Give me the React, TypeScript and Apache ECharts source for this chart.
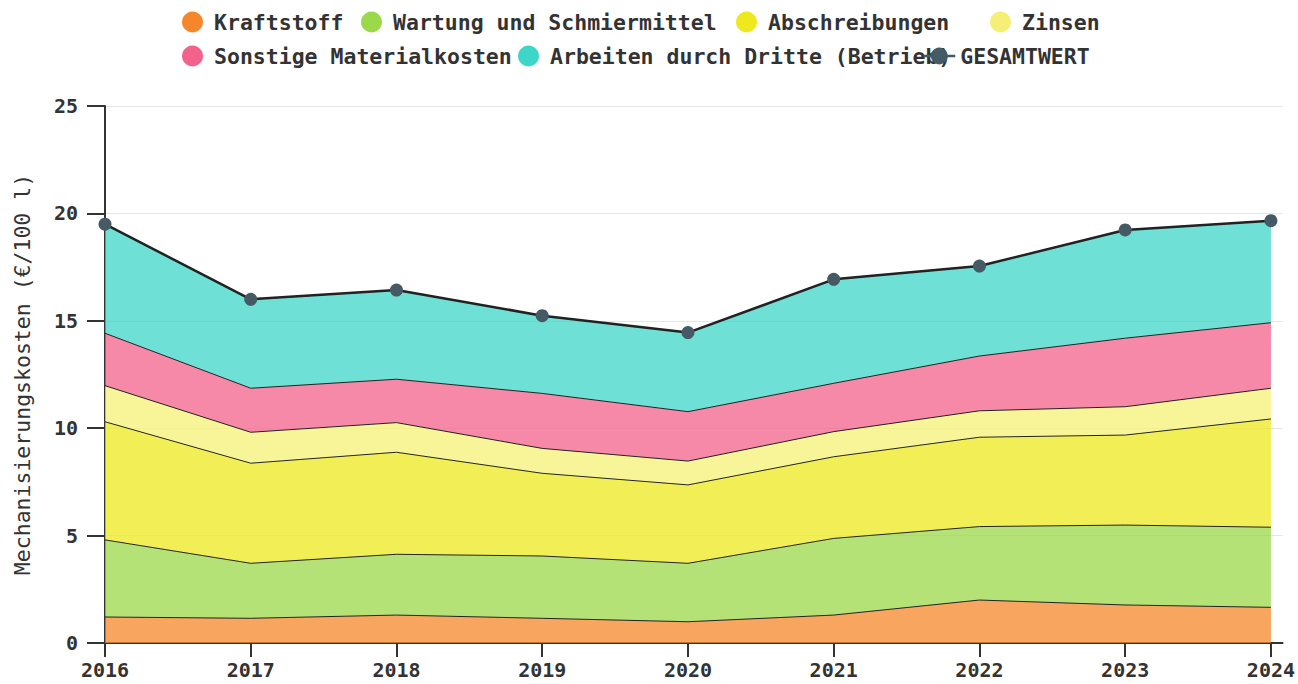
import React, { useEffect, useRef } from "react";
import * as echarts from "echarts";

const years = [2016, 2017, 2018, 2019, 2020, 2021, 2022, 2023, 2024];
const kraftstoff = [1.21, 1.15, 1.30, 1.15, 0.99, 1.30, 2.00, 1.77, 1.66];
const wartung = [3.59, 2.56, 2.83, 2.90, 2.72, 3.57, 3.42, 3.72, 3.73];
const abschreibungen = [5.50, 4.66, 4.75, 3.85, 3.65, 3.80, 4.16, 4.19, 5.04];
const zinsen = [1.68, 1.44, 1.38, 1.16, 1.11, 1.17, 1.23, 1.32, 1.43];
const sonstige = [2.44, 2.05, 2.02, 2.56, 2.30, 2.25, 2.55, 3.19, 3.05];
const arbeiten = [5.08, 4.14, 4.15, 3.62, 3.68, 4.84, 4.19, 5.04, 4.75];
const gesamt = [19.50, 16.00, 16.43, 15.24, 14.45, 16.93, 17.55, 19.23, 19.66];
const yTicks = [0, 5, 10, 15, 20, 25];

const areaNames = [
  "Kraftstoff",
  "Wartung und Schmiermittel",
  "Abschreibungen",
  "Zinsen",
  "Sonstige Materialkosten",
  "Arbeiten durch Dritte (Betrieb)",
];
const areaValues = [kraftstoff, wartung, abschreibungen, zinsen, sonstige, arbeiten];
const areaColors = ["#F5872A", "#9BD84A", "#EEE91E", "#F5F075", "#F2628A", "#3DD6C8"];
const totalName = "GESAMTWERT";

const FONT = "'DejaVu Sans Mono', monospace";

export default function App() {
  const ref = useRef<HTMLDivElement>(null);
  useEffect(() => {
    if (!ref.current) return;
    const chart = echarts.init(ref.current, null, { renderer: "svg" });

    const legendPos: { name: string; left: number; top: number }[] = [
      { name: areaNames[0], left: 182, top: 11 },
      { name: areaNames[1], left: 361, top: 11 },
      { name: areaNames[2], left: 736, top: 11 },
      { name: areaNames[3], left: 990, top: 11 },
      { name: areaNames[4], left: 182, top: 45 },
      { name: areaNames[5], left: 518, top: 45 },
      { name: totalName, left: 922, top: 45 },
    ];

    const legends = legendPos.map((p) => {
      const isTotal = p.name === totalName;
      return {
        data: [p.name],
        left: p.left,
        top: p.top,
        padding: 0,
        itemWidth: isTotal ? 32 : 21,
        itemHeight: 21,
        icon: isTotal ? undefined : "circle",
        itemStyle: isTotal ? { color: "#455A64" } : { borderWidth: 0 },
        lineStyle: isTotal ? { color: "#455A64", width: 2.5 } : undefined,
        textStyle: {
          fontFamily: FONT,
          fontSize: 21.5,
          fontWeight: "bold",
          color: "#333",
          padding: isTotal ? 0 : [0, 0, 0, 6],
        },
        selectedMode: false,
      };
    });

    // data as [value, year] so the value dimension is the stacked one
    const series: any[] = areaNames.map((name, i) => ({
      name,
      type: "line",
      stack: "total",
      data: years.map((y, j) => [areaValues[i][j], y]),
      encode: { x: 1, y: 0 },
      symbol: "none",
      color: areaColors[i],
      lineStyle: { color: "#222", width: 1 },
      areaStyle: { color: areaColors[i], opacity: 0.75 },
      z: 2,
    }));

    series.push({
      name: totalName,
      type: "line",
      data: years.map((y, j) => [y, gesamt[j]]),
      symbol: "circle",
      symbolSize: 13,
      color: "#455A64",
      itemStyle: { color: "#455A64" },
      lineStyle: { color: "#222", width: 2.5 },
      z: 5,
    });

    chart.setOption({
      animation: false,
      backgroundColor: "#fff",
      legend: legends,
      grid: { left: 105, right: 10, top: 106, bottom: 41, containLabel: false },
      xAxis: {
        type: "value",
        min: 2016,
        max: 2024.08,
        interval: 1,
        axisLine: { show: true, lineStyle: { color: "#333", width: 2 } },
        axisTick: {
          show: true,
          length: 14,
          customValues: years,
          lineStyle: { color: "#333", width: 2 },
        },
        axisLabel: {
          customValues: years,
          margin: 17,
          fontFamily: FONT,
          fontSize: 20,
          fontWeight: "bold",
          color: "#333",
          formatter: (v: number) => String(v),
        },
        splitLine: { show: false },
      },
      yAxis: {
        type: "value",
        min: 0,
        max: 25,
        interval: 5,
        name: "Mechanisierungskosten (€/100 l)",
        nameLocation: "middle",
        nameGap: 72,
        nameTextStyle: {
          fontFamily: FONT,
          fontSize: 21.5,
          color: "#333",
        },
        axisLine: { show: true, lineStyle: { color: "#333", width: 2 } },
        axisTick: { show: true, length: 18, lineStyle: { color: "#333", width: 2 } },
        axisLabel: {
          margin: 27,
          fontFamily: FONT,
          fontSize: 20,
          fontWeight: "bold",
          color: "#333",
          customValues: yTicks,
        },
        splitLine: { show: true, lineStyle: { color: "#e6e6e6", width: 1 } },
      },
      series,
    });

    return () => chart.dispose();
  }, []);

  return (
    <div
      ref={ref}
      style={{ position: "fixed", left: 0, top: 0, width: 1298, height: 684 }}
    />
  );
}
